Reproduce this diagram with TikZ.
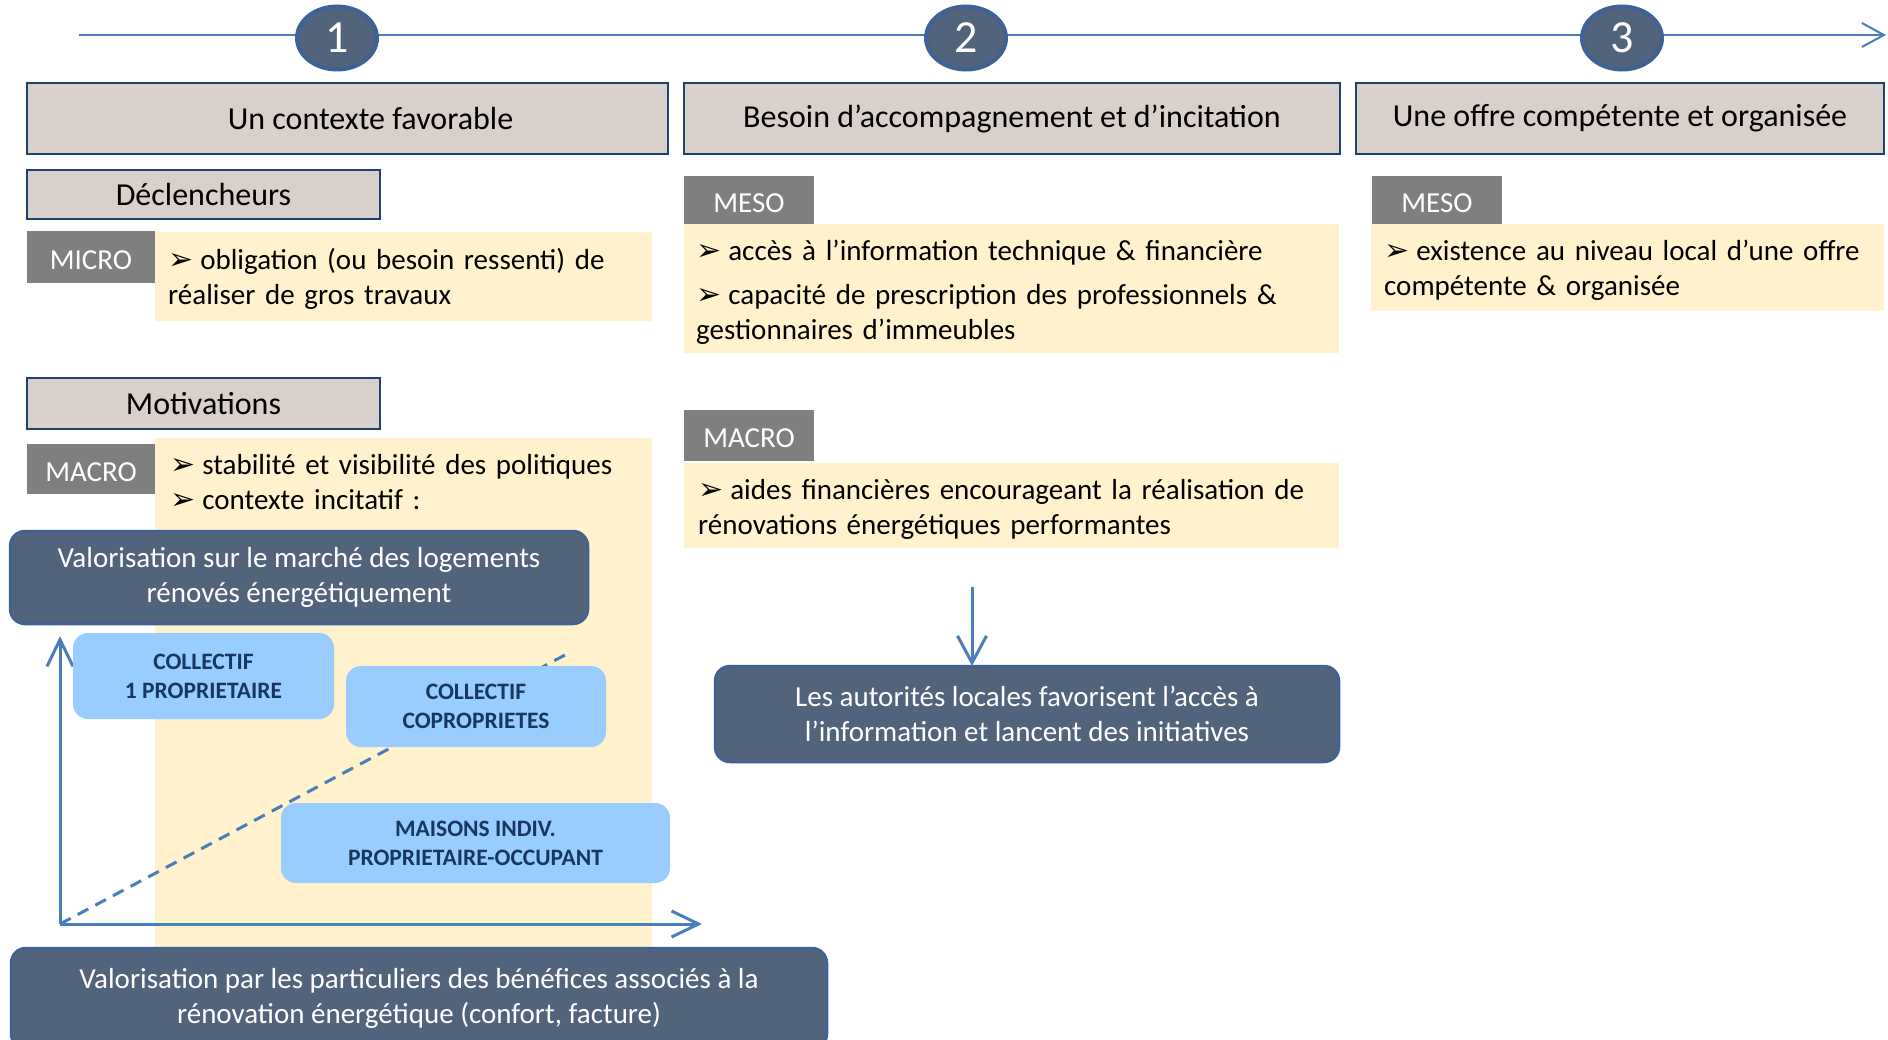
\documentclass[tikz,border=0pt]{standalone}
\usepackage{fontspec}
\setmainfont{Carlito}
\newfontfamily\dejavu{DejaVu Sans}
\usetikzlibrary{arrows.meta,shapes.geometric}
\definecolor{hdrfill}{HTML}{D9CFCB}
\definecolor{hdrline}{HTML}{1F406E}
\definecolor{lblgray}{HTML}{7F7F7F}
\definecolor{yel}{HTML}{FFF2CC}
\definecolor{darkfill}{HTML}{52637C}
\definecolor{darkline}{HTML}{3E6296}
\definecolor{lblue}{HTML}{99CCFF}
\definecolor{navy}{HTML}{17375E}
\definecolor{axis}{HTML}{4A7EBB}
\newcommand\bul{{\dejavu\fontsize{30}{30}\selectfont ➢}\hspace{7pt}}
\begin{document}
\begin{tikzpicture}[x=1pt,y=-1pt,
  box/.style={anchor=north west,inner sep=0pt,outer sep=0pt},
  hdr/.style={box,draw=hdrline,line width=2.5pt,fill=hdrfill,font=\fontsize{32}{38}\selectfont},
  lbl/.style={box,fill=lblgray,text=white,text height=24.5pt,text depth=0pt,font=\fontsize{29}{35}\selectfont},
  ybox/.style={box,fill=yel},
  ytext/.style={anchor=base west,inner sep=0pt,text width=#1,align=left,font=\fontsize{29}{35}\selectfont},
  dbox/.style={box,rounded corners=15pt,fill=darkfill,draw=darkline,line width=2.5pt,text=white,align=center,font=\fontsize{29}{35}\selectfont},
  bbox/.style={box,rounded corners=15pt,fill=lblue,text=navy,align=center,font=\bfseries\fontsize{23.5}{29}\selectfont},
  numc/.style={ellipse,fill=darkfill,draw=darkline,line width=4pt,text=white,minimum width=80pt,minimum height=63pt,inner sep=0pt,font=\fontsize{46}{46}\selectfont},
  tline/.style={draw=axis,line width=2pt},
  axline/.style={draw=axis,line width=3pt}
]
\fill[white] (0,0) rectangle (1888,1040);
\useasboundingbox (0,0) rectangle (1888,1040);

% timeline
\coordinate (tl0) at (79,35);
\coordinate (tl1) at (1886,35);
\draw[tline,-{Straight Barb[length=22pt,width=24pt]}] (tl0) -- (tl1);
\node[numc] (n1) at (337,38) {1};
\node[numc] (n2) at (966,38) {2};
\node[numc] (n3) at (1622,38) {3};

% headers
\node[hdr,minimum width=641pt,minimum height=71pt] (h1) at (27,83) {\hspace*{46pt}Un contexte favorable};
\node[hdr,minimum width=656pt,minimum height=71pt] (h2) at (684,83) {Besoin d’accompagnement et d’incitation};
\node[hdr,minimum width=528pt,minimum height=71pt] (h3) at (1356,83) {Une offre compétente et organisée};

% column 1
\node[hdr,line width=2pt,minimum width=353pt,minimum height=49pt] (decl) at (27,170) {Déclencheurs};
\node[ybox,minimum width=497pt,minimum height=89pt] (ymicro) at (155,232) {};
\node[lbl,minimum width=128pt,minimum height=52pt] (micro) at (27,231) {MICRO};
\node[ytext=480pt] (tmicro) at (168,270) {\bul obligation (ou besoin ressenti) de\\réaliser de gros travaux};

\node[hdr,line width=2pt,minimum width=353pt,minimum height=51pt] (motiv) at (27,378) {Motivations};
\node[ybox,minimum width=497pt,minimum height=509pt] (ymacro) at (155,438) {};
\node[lbl,minimum width=128pt,minimum height=50pt] (macro1) at (27,444) {MACRO};
\node[ytext=480pt] (tmacro) at (170,475) {\bul stabilité et visibilité des politiques\\\bul contexte incitatif :};

\node[dbox,minimum width=578pt,minimum height=93pt] (valm) at (10,531) {Valorisation sur le marché des logements\\rénovés énergétiquement};

% chart
\coordinate (orig) at (60,924);
\coordinate (ytop) at (60,636);
\coordinate (xend) at (702,924);
\coordinate (dend) at (565,655);
\draw[axline,dashed,dash pattern=on 12pt off 8pt] (orig) -- (dend);
\draw[axline,-{Straight Barb[length=27pt,width=26pt]}] (orig) -- (ytop);
\draw[axline,-{Straight Barb[length=27pt,width=26pt]}] (orig) -- (xend);

\node[bbox,minimum width=261pt,minimum height=86pt] (c1) at (73,633) {COLLECTIF\\1 PROPRIETAIRE};
\node[bbox,minimum width=260pt,minimum height=81pt] (c2) at (346,666) {COLLECTIF\\COPROPRIETES};
\node[bbox,minimum width=389pt,minimum height=80pt] (c3) at (281,803) {MAISONS INDIV.\\PROPRIETAIRE-OCCUPANT};

\node[dbox,minimum width=816pt,minimum height=101pt] (valp) at (11,948) {Valorisation par les particuliers des bénéfices associés à la\\rénovation énergétique (confort, facture)};

% column 2
\node[ybox,minimum width=655pt,minimum height=129pt] (ymeso2) at (684,224) {};
\node[lbl,minimum width=130pt,minimum height=48pt] (meso2) at (684,176) {MESO};
\node[ytext=640pt] (tmeso2) at (696,261) {\bul accès à l’information technique \& financière\\[9pt]\bul capacité de prescription des professionnels \&\\gestionnaires d’immeubles};

\node[ybox,minimum width=655pt,minimum height=85pt] (ymacro2) at (684,463) {};
\node[lbl,minimum width=130pt,minimum height=51pt] (macro2) at (684,410) {MACRO};
\node[ytext=640pt] (tmacro2) at (698,499) {\bul aides financières encourageant la réalisation de\\rénovations énergétiques performantes};

\node[dbox,minimum width=624pt,minimum height=96pt] (auto) at (715,666) {Les autorités locales favorisent l’accès à\\l’information et lancent des initiatives};
\coordinate (arrtop) at (972,587);
\draw[axline,-{Straight Barb[length=27pt,width=29pt]}] (arrtop) -- (arrtop |- auto.north);

% column 3
\node[ybox,minimum width=513pt,minimum height=87pt] (ymeso3) at (1371,224) {};
\node[lbl,minimum width=130pt,minimum height=48pt] (meso3) at (1372,176) {MESO};
\node[ytext=495pt] (tmeso3) at (1384,261) {\bul existence au niveau local d’une offre\\compétente \& organisée};
\end{tikzpicture}
\end{document}
